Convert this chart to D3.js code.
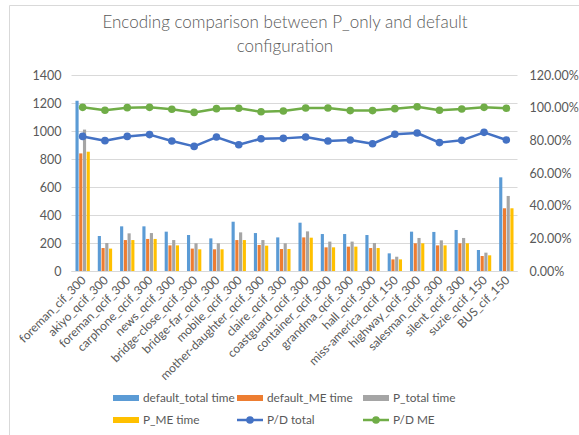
<!DOCTYPE html>
<html>
<head>
<meta charset="utf-8">
<script src="https://cdn.jsdelivr.net/npm/d3@7"></script>
<style>
  html, body { margin: 0; padding: 0; background: #fff; }
  svg { display: block; font-family: Lato, "Open Sans", sans-serif; }
</style>
</head>
<body>
<svg id="chart" width="579" height="435"></svg>
<script>
// Sequences and per-sequence measurements
const categories = [
  "foreman_cif_300", "akiyo_qcif_300", "foreman_qcif_300", "carphone_qcif_300",
  "news_qcif_300", "bridge-close_qcif_300", "bridge-far_qcif_300", "mobile_qcif_300",
  "mother-daughter_qcif_300", "claire_qcif_300", "coastguard_qcif_300", "container_qcif_300",
  "grandma_qcif_300", "hall_qcif_300", "miss-america_qcif_150", "highway_qcif_300",
  "salesman_qcif_300", "silent_qcif_300", "suzie_qcif_150", "BUS_cif_150"
];
const defaultTotal = [1216, 250, 319, 319, 281, 257, 233, 352, 271, 240, 345, 264, 264, 257, 126, 281, 279, 293, 150, 669];
const defaultME    = [840, 164, 221, 229, 183, 160, 155, 221, 186, 157, 240, 169, 174, 164, 83, 198, 183, 198, 107, 448];
const pTotal       = [1010, 200, 269, 271, 221, 198, 198, 276, 221, 198, 283, 210, 210, 200, 102, 236, 219, 236, 131, 536];
const pME          = [852, 160, 221, 229, 183, 155, 155, 221, 181, 157, 238, 169, 174, 164, 83, 198, 183, 198, 112, 448];
// Ratios P / default, in percent
const pdTotal = [82.4, 79.8, 82.4, 83.5, 79.6, 76.3, 82.0, 77.3, 81.0, 81.2, 82.0, 79.6, 80.2, 77.9, 83.7, 84.5, 78.6, 80.0, 84.9, 80.2];
const pdME    = [100.2, 98.4, 100.0, 100.2, 99.0, 97.1, 99.4, 99.6, 97.5, 98.0, 99.8, 99.8, 98.2, 98.2, 99.4, 100.6, 98.4, 99.2, 100.2, 99.6];

const leftTicks  = [0, 200, 400, 600, 800, 1000, 1200, 1400];
const rightTicks = [0, 20, 40, 60, 80, 100, 120];

const barSeries = [
  { name: "default_total time", values: defaultTotal, color: "#5b9bd5" },
  { name: "default_ME time",    values: defaultME,    color: "#ed7d31" },
  { name: "P_total time",       values: pTotal,       color: "#a5a5a5" },
  { name: "P_ME time",          values: pME,          color: "#ffc000" }
];
const lineSeries = [
  { name: "P/D total", values: pdTotal, color: "#4472c4" },
  { name: "P/D ME",    values: pdME,    color: "#70ad47" }
];

const textColor = "#595959";
const gridColor = "#d9d9d9";

const svg = d3.select("#chart");

// Chart frame
svg.append("path")
  .attr("d", "M9.5,440 V5.5 H590")
  .attr("fill", "none")
  .attr("stroke", gridColor)
  .attr("stroke-width", 1);

// Title
const title = svg.append("text")
  .attr("text-anchor", "middle")
  .attr("fill", textColor)
  .attr("font-size", 17)
  .attr("font-weight", 300);
title.append("tspan").attr("x", 285).attr("y", 28).text("Encoding comparison between P_only and default");
title.append("tspan").attr("x", 285).attr("y", 52).text("configuration");

const plot = { left: 71.5, right: 517.5, top: 75, bottom: 271 };

const x = d3.scaleBand()
  .domain(categories)
  .range([plot.left, plot.right])
  .paddingInner(0)
  .paddingOuter(0);

const groupWidth = x.bandwidth() * 0.67;
const x1 = d3.scaleBand()
  .domain(barSeries.map(d => d.name))
  .range([0, groupWidth])
  .padding(0);

const yL = d3.scaleLinear().domain([0, 1400]).range([plot.bottom, plot.top]);
const yR = d3.scaleLinear().domain([0, 120]).range([plot.bottom, plot.top]);

// Gridlines
svg.append("g")
  .selectAll("line")
  .data(leftTicks)
  .join("line")
  .attr("x1", plot.left)
  .attr("x2", plot.right)
  .attr("y1", d => Math.round(yL(d)) + 0.5)
  .attr("y2", d => Math.round(yL(d)) + 0.5)
  .attr("stroke", gridColor)
  .attr("stroke-width", 1);

// Left axis
const leftAxis = svg.append("g")
  .attr("transform", `translate(${plot.left - 10},0)`)
  .call(d3.axisLeft(yL).tickValues(leftTicks).tickSize(0).tickPadding(0).tickFormat(d3.format("d")));
leftAxis.select(".domain").remove();
leftAxis.selectAll("text").attr("fill", textColor).attr("font-size", 12.5).attr("font-family", "Lato, sans-serif");

// Right axis
const rightAxis = svg.append("g")
  .attr("transform", `translate(${plot.right + 12},0)`)
  .call(d3.axisRight(yR).tickValues(rightTicks).tickSize(0).tickPadding(0).tickFormat(d => d.toFixed(2) + "%"));
rightAxis.select(".domain").remove();
rightAxis.selectAll("text").attr("fill", textColor).attr("font-size", 12.5).attr("font-family", "Lato, sans-serif");

// Bars
const groupOffset = (x.bandwidth() - groupWidth) / 2;
const barG = svg.append("g");
barSeries.forEach(s => {
  barG.append("g")
    .attr("fill", s.color)
    .selectAll("rect")
    .data(s.values)
    .join("rect")
    .attr("x", (d, i) => x(categories[i]) + groupOffset + x1(s.name) + 0.3)
    .attr("width", x1.bandwidth() - 0.6)
    .attr("y", d => yL(d))
    .attr("height", d => yL(0) - yL(d));
});

// Category axis baseline
svg.append("line")
  .attr("x1", plot.left).attr("x2", plot.right)
  .attr("y1", plot.bottom + 0.5).attr("y2", plot.bottom + 0.5)
  .attr("stroke", gridColor);

// Category labels
const xAxis = svg.append("g")
  .attr("transform", `translate(0,${plot.bottom})`)
  .call(d3.axisBottom(x).tickSize(0).tickPadding(0));
xAxis.select(".domain").remove();
xAxis.selectAll("text")
  .attr("fill", textColor)
  .attr("font-size", 12)
  .attr("font-family", "Lato, sans-serif")
  .attr("text-anchor", "end")
  .attr("dy", null)
  .attr("y", 0)
  .attr("transform", "translate(4,10) rotate(-45)");

// Ratio lines
const lineGen = d3.line()
  .x((d, i) => x(categories[i]) + x.bandwidth() / 2)
  .y(d => yR(d));
lineSeries.forEach(s => {
  svg.append("path")
    .datum(s.values)
    .attr("fill", "none")
    .attr("stroke", s.color)
    .attr("stroke-width", 2.5)
    .attr("stroke-linejoin", "round")
    .attr("d", lineGen);
  svg.append("g")
    .attr("fill", s.color)
    .selectAll("circle")
    .data(s.values)
    .join("circle")
    .attr("cx", (d, i) => x(categories[i]) + x.bandwidth() / 2)
    .attr("cy", d => yR(d))
    .attr("r", 3.8);
});

// Legend
const legendItems = [
  { s: barSeries[0], type: "bar", x: 113, y: 398 },
  { s: barSeries[1], type: "bar", x: 237, y: 398 },
  { s: barSeries[2], type: "bar", x: 363, y: 398 },
  { s: barSeries[3], type: "bar", x: 113, y: 420 },
  { s: lineSeries[0], type: "line", x: 237, y: 420 },
  { s: lineSeries[1], type: "line", x: 363, y: 420 }
];
const legend = svg.append("g");
legendItems.forEach(it => {
  const g = legend.append("g").attr("transform", `translate(${it.x},${it.y})`);
  if (it.type === "bar") {
    g.append("rect").attr("x", 0).attr("y", -3).attr("width", 26).attr("height", 6).attr("fill", it.s.color);
  } else {
    g.append("line").attr("x1", 0).attr("x2", 26).attr("y1", 0).attr("y2", 0)
      .attr("stroke", it.s.color).attr("stroke-width", 2.5);
    g.append("circle").attr("cx", 13).attr("cy", 0).attr("r", 3.8).attr("fill", it.s.color);
  }
  g.append("text")
    .attr("x", 30)
    .attr("y", 0)
    .attr("dy", "0.35em")
    .attr("fill", textColor)
    .attr("font-size", 11.8)
    .text(it.s.name);
});
</script>
</body>
</html>
